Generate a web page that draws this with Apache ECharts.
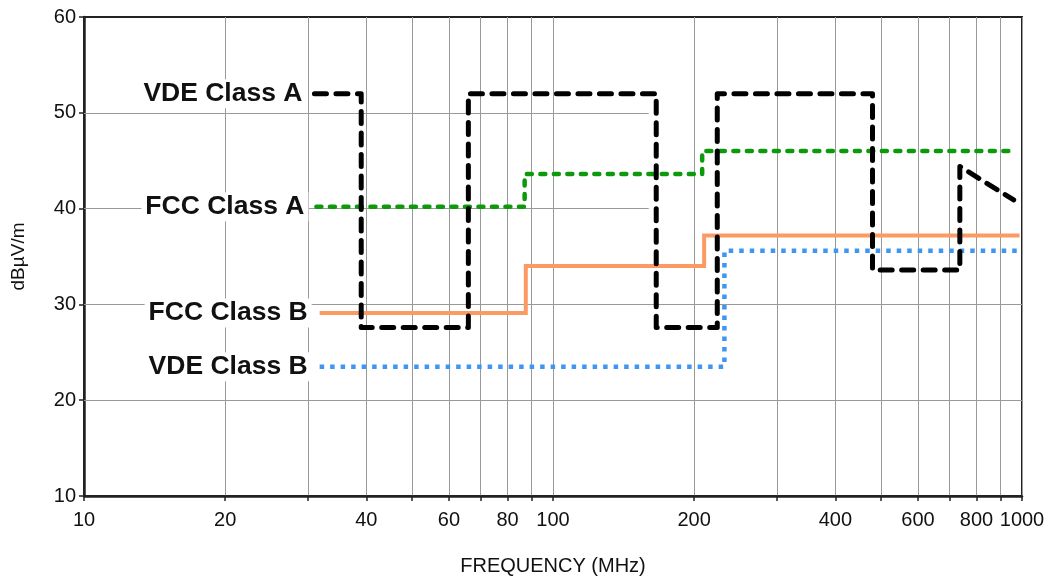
<!DOCTYPE html>
<html>
<head>
<meta charset="utf-8">
<script src="https://cdn.jsdelivr.net/npm/echarts@6/dist/echarts.min.js"></script>
<style>html,body{margin:0;padding:0;background:#fff}#c{width:1055px;height:578px}</style>
</head>
<body>
<div id="c"></div>
<script>
// ---- data ----
const vdeAFreq  = [31, 39, 39, 66, 66, 166, 166, 224, 224, 480, 480, 737, 737, 960];
const vdeALevel = [52, 52, 27.6, 27.6, 52, 52, 27.6, 27.6, 52, 52, 33.6, 33.6, 44.4, 40.9];
const fccAFreq  = [31.3, 87, 87, 208, 208, 965];
const fccALevel = [40.2, 40.2, 43.6, 43.6, 46, 46];
const fccBFreq  = [31.8, 87.5, 87.5, 210, 210, 988];
const fccBLevel = [29.1, 29.1, 34, 34, 37.2, 37.2];
const vdeBFreq  = [31.8, 232, 232, 983];
const vdeBLevel = [23.5, 23.5, 35.6, 35.6];
const seriesNames = ['VDE Class A', 'FCC Class A', 'FCC Class B', 'VDE Class B'];
const xTickValues = [10,20,30,40,50,60,70,80,90,100,200,300,400,500,600,700,800,900,1000];
const xLabelValues = [10,20,40,60,80,100,200,400,600,800,1000];
const hGridLevels = [20, 30, 40, 50];
const hGridEnds   = [1000, 1000, 160, 160];

const FONT = 'Liberation Sans';
function pts(fs, ls, name) {
  return fs.map((f, i) => {
    const item = { value: [f, ls[i]] };
    if (i === 0) {
      item.label = {
        show: true, position: 'left', distance: 8, formatter: name,
        fontFamily: FONT, fontWeight: 'bold', fontSize: 26.5, color: '#111',
        backgroundColor: '#fff', padding: [1, 4, 1, 4]
      };
    }
    return item;
  });
}
function lineSeries(name, fs, ls, style) {
  return {
    name, type: 'line', z: 3, animation: false,
    symbol: 'circle', symbolSize: 0, showSymbol: true,
    itemStyle: { color: style.color },
    lineStyle: style,
    data: pts(fs, ls, name)
  };
}

const chart = echarts.init(document.getElementById('c'), null, { renderer: 'canvas' });
chart.setOption({
  animation: false,
  grid: { left: 84, right: 33, top: 17, bottom: 82, outerBoundsMode: 'none', containLabel: false,
          show: true, borderColor: '#222', borderWidth: 2, backgroundColor: 'transparent' },
  xAxis: {
    type: 'log', logBase: 10, min: 10, max: 1000,
    name: 'FREQUENCY (MHz)', nameLocation: 'middle', nameGap: 60,
    nameTextStyle: { fontFamily: FONT, fontSize: 20, color: '#111' },
    axisLine: { show: true, onZero: false, lineStyle: { color: '#222', width: 2.5 } },
    axisTick: { show: true, length: 5, customValues: xTickValues, lineStyle: { color: '#222', width: 1.5 } },
    axisLabel: { customValues: xLabelValues, fontFamily: FONT, fontSize: 20, color: '#111', margin: 14,
                 showMinLabel: true, showMaxLabel: true, formatter: v => String(Math.round(v)) },
    splitLine: { show: true, lineStyle: { color: '#999', width: 1 } },
    minorTick: { show: false }, minorSplitLine: { show: false }
  },
  yAxis: {
    type: 'value', min: 10, max: 60, interval: 10,
    name: 'dBµV/m', nameLocation: 'middle', nameGap: 56, nameRotate: 90,
    nameTextStyle: { fontFamily: FONT, fontSize: 19, color: '#111' },
    axisLine: { show: true, lineStyle: { color: '#222', width: 2.5 } },
    axisTick: { show: true, length: 5, lineStyle: { color: '#222', width: 1.5 } },
    axisLabel: { fontFamily: FONT, fontSize: 20, color: '#111', margin: 8 },
    splitLine: { show: false }
  },
  series: [
    {
      type: 'line', z: 1, data: [], animation: false, silent: true,
      markLine: {
        z: 1, silent: true, symbol: ['none', 'none'], label: { show: false }, animation: false,
        lineStyle: { color: '#999', width: 1, type: 'solid' },
        data: hGridLevels.map((v, i) => [{ coord: [10, v] }, { coord: [hGridEnds[i], v] }])
      }
    },
    lineSeries(seriesNames[2], fccBFreq, fccBLevel, { color: '#fd9a63', width: 4, type: 'solid', cap: 'butt', join: 'miter' }),
    lineSeries(seriesNames[3], vdeBFreq, vdeBLevel, { color: '#3f96f2', width: 4.5, type: [4.5, 6], cap: 'butt', join: 'miter' }),
    lineSeries(seriesNames[1], fccAFreq, fccALevel, { color: '#0c9a0c', width: 4.5, type: [5, 8.5], cap: 'round', join: 'round' }),
    lineSeries(seriesNames[0], vdeAFreq, vdeALevel, { color: '#000', width: 5, type: [12, 9.5], cap: 'round', join: 'round' })
  ]
});
</script>
</body>
</html>
